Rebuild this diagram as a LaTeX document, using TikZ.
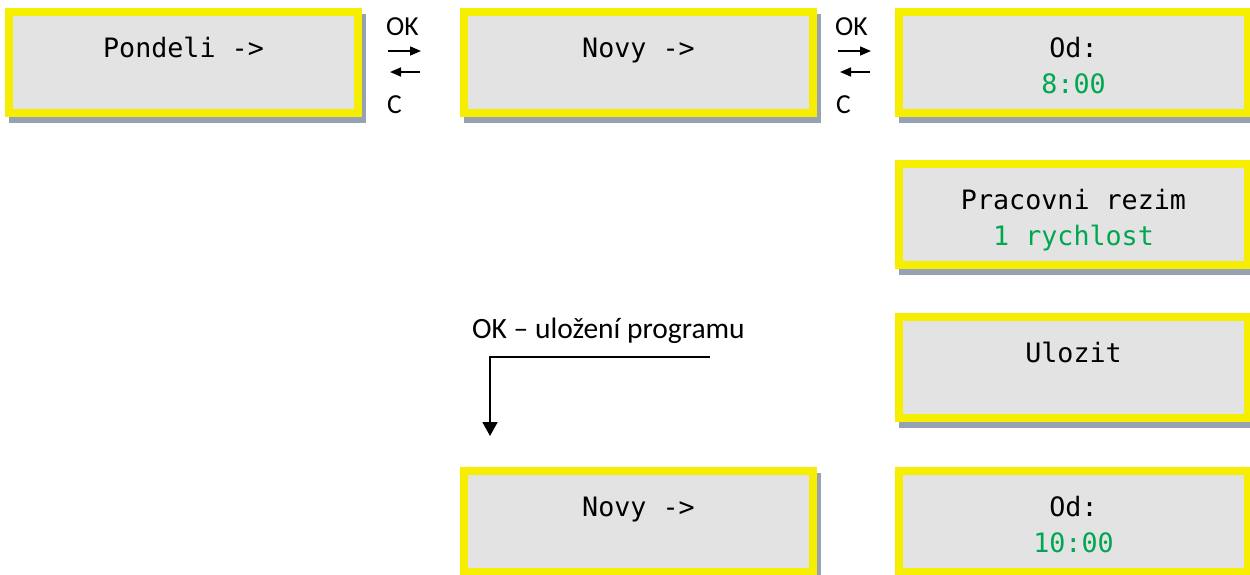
\documentclass[tikz,border=0pt]{standalone}
\usepackage{fontspec}
\setmainfont{Carlito}
\newfontfamily\lcdfont{DejaVu Sans Mono}
\usetikzlibrary{arrows.meta,shadows}
\definecolor{lcdyellow}{RGB}{245,238,0}
\definecolor{lcdgray}{RGB}{227,227,227}
\definecolor{lcdshadow}{RGB}{150,162,180}
\definecolor{lcdgreen}{RGB}{0,166,80}

\begin{document}
\begin{tikzpicture}[x=1pt,y=1pt,
  lcd/.style={rectangle, draw=lcdyellow, fill=lcdgray, line width=8pt,
    minimum width=349pt, minimum height=101pt, inner sep=0pt,
    general shadow={draw=lcdshadow, fill=lcdshadow, line width=8pt,
      shadow xshift=4pt, shadow yshift=-6pt}},
  lcdtext/.style={font=\lcdfont\fontsize{26.7}{32}\selectfont, inner sep=0pt, anchor=base},
  val/.style={lcdtext, text=lcdgreen},
  key/.style={font=\fontsize{27.5}{32}\selectfont, inner sep=0pt, anchor=base west},
  note/.style={font=\fontsize{29.5}{34}\selectfont, inner sep=0pt, anchor=base west},
  nav/.style={-{Triangle[length=11pt,width=9pt]}, line width=1.6pt},
  save/.style={-{Triangle[length=14pt,width=15pt]}, line width=1.8pt}]

\useasboundingbox (0,0) rectangle (1250,-574);
\clip (0,0) rectangle (1250,-574);

% display screens
\node[lcd] (pondeli) at (183.5,-62.5) {};
\node[lcd] (novyA)   at (638.5,-62.5) {};
\node[lcd] (odA)     at (1073.5,-62.5) {};
\node[lcd] (rezim)   at (1073.5,-214.5) {};
\node[lcd] (ulozit)  at (1073.5,-367.5) {};
\node[lcd] (novyB)   at (638.5,-521.5) {};
\node[lcd] (odB)     at (1073.5,-521.5) {};

% screen texts: first line and value line
\node[lcdtext] (pondeliT) at ([yshift=-49pt]pondeli.north) {Pondeli ->};
\node[lcdtext] (novyAT)   at ([yshift=-49pt]novyA.north) {Novy ->};
\node[lcdtext] (odAT)     at ([yshift=-49pt]odA.north) {Od:};
\node[val]     (odAV)     at ([yshift=-85pt]odA.north) {8:00};
\node[lcdtext] (rezimT)   at ([yshift=-49pt]rezim.north) {Pracovni rezim};
\node[val]     (rezimV)   at ([yshift=-85pt]rezim.north) {1 rychlost};
\node[lcdtext] (ulozitT)  at ([yshift=-49pt]ulozit.north) {Ulozit};
\node[lcdtext] (novyBT)   at ([yshift=-49pt]novyB.north) {Novy ->};
\node[lcdtext] (odBT)     at ([yshift=-49pt]odB.north) {Od:};
\node[val]     (odBV)     at ([yshift=-85pt]odB.north) {10:00};

% key hints between screens
\node[key] (okA) at (386,-35) {OK};
\node[key] (cA)  at (387,-113) {C};
\coordinate (okAs) at (388,-51);  \coordinate (okAe) at (421,-51);
\coordinate (cAs)  at (420,-72);  \coordinate (cAe)  at (390,-72);
\draw[nav] (okAs) -- (okAe);
\draw[nav] (cAs) -- (cAe);

\node[key] (okB) at (835,-35) {OK};
\node[key] (cB)  at (836,-113) {C};
\coordinate (okBs) at (838,-51);  \coordinate (okBe) at (871,-51);
\coordinate (cBs)  at (870,-72);  \coordinate (cBe)  at (840,-72);
\draw[nav] (okBs) -- (okBe);
\draw[nav] (cBs) -- (cBe);

% saving the program
\node[note] (saveL) at (472,-338) {OK – uložení programu};
\coordinate (saveS) at (710,-357);
\coordinate (saveM) at (490,-357);
\coordinate (saveE) at (490,-436);
\draw[save] (saveS) -- (saveM) -- (saveE);
\end{tikzpicture}
\end{document}
